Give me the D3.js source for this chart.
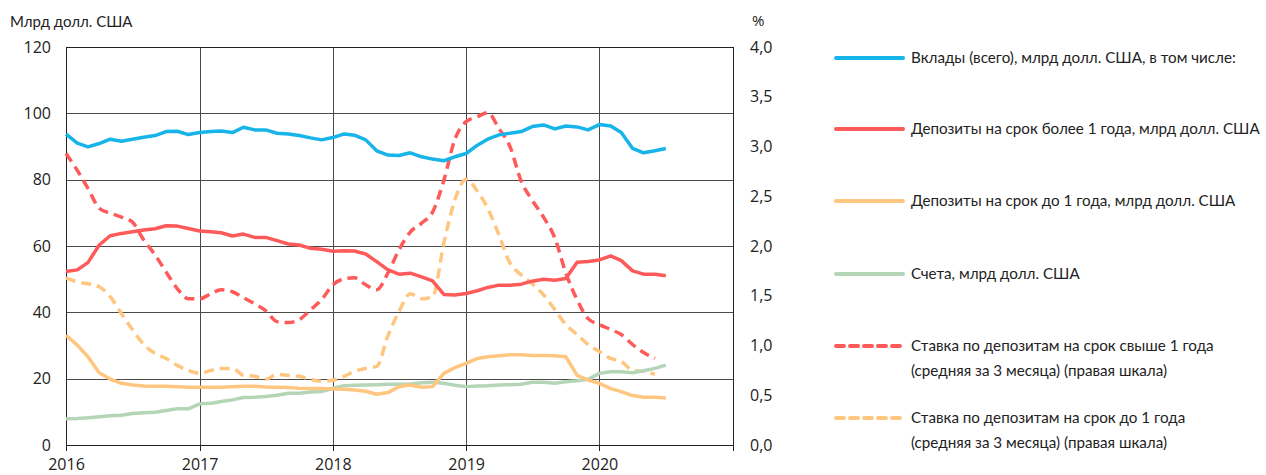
<!DOCTYPE html>
<html>
<head>
<meta charset="utf-8">
<script src="https://cdn.jsdelivr.net/npm/d3@7"></script>
<style>
  body { margin: 0; background: #fff; }
  svg { display: block; }
</style>
</head>
<body>
<svg id="chart" width="1266" height="475"></svg>
<script>
// monthly points, Jan 2016 .. Jul 2020
const startYear = 2016;
const yearTicks = [2016, 2017, 2018, 2019, 2020];

const deposits = [93.7, 91.0, 89.9, 90.9, 92.2, 91.6, 92.2, 92.8, 93.3, 94.5, 94.6, 93.6,
  94.2, 94.5, 94.7, 94.2, 95.8, 95.0, 95.0, 94.0, 93.8, 93.3, 92.6, 92.0,
  92.7, 93.8, 93.4, 92.0, 88.7, 87.4, 87.3, 88.1, 86.9, 86.2, 85.7, 86.9,
  87.9, 90.4, 92.2, 93.5, 94.0, 94.5, 96.0, 96.5, 95.3, 96.2, 95.9, 95.0,
  96.6, 96.2, 94.2, 89.4, 88.1, 88.7, 89.4];

const longTerm = [52.3, 52.8, 55.0, 60.3, 63.1, 63.8, 64.3, 64.8, 65.2, 66.1, 66.0, 65.3,
  64.5, 64.3, 64.0, 63.0, 63.6, 62.6, 62.6, 61.6, 60.6, 60.3, 59.3, 59.0,
  58.4, 58.6, 58.5, 57.6, 55.3, 52.8, 51.5, 51.8, 50.7, 49.5, 45.4, 45.2,
  45.7, 46.5, 47.5, 48.2, 48.2, 48.5, 49.4, 50.0, 49.7, 50.2, 55.1, 55.3,
  55.8, 57.0, 55.6, 52.5, 51.5, 51.5, 51.0];

const shortTerm = [33.1, 30.1, 26.6, 21.8, 19.9, 18.6, 18.1, 17.8, 17.7, 17.7, 17.6, 17.4,
  17.4, 17.4, 17.4, 17.6, 17.7, 17.7, 17.5, 17.4, 17.3, 17.1, 17.0, 17.0,
  16.9, 16.8, 16.6, 16.2, 15.3, 15.8, 17.6, 18.1, 17.4, 17.6, 21.6, 23.3,
  24.6, 26.1, 26.6, 26.9, 27.2, 27.2, 27.0, 27.0, 26.9, 26.6, 21.0, 19.6,
  18.6, 17.0, 16.1, 14.9, 14.4, 14.4, 14.2];

const accounts = [7.9, 8.0, 8.2, 8.5, 8.8, 9.0, 9.5, 9.7, 9.9, 10.4, 10.9, 10.9,
  12.4, 12.6, 13.1, 13.6, 14.3, 14.4, 14.6, 15.0, 15.6, 15.6, 16.0, 16.1,
  17.1, 17.9, 18.0, 18.1, 18.2, 18.3, 18.3, 18.4, 18.8, 18.9, 18.6, 18.0,
  17.6, 17.8, 17.9, 18.1, 18.2, 18.3, 18.9, 18.9, 18.6, 19.1, 19.4, 19.8,
  21.6, 22.1, 22.1, 21.8, 22.4, 23.1, 24.1];

// rates, % (right axis), Jan 2016 .. Jun 2020
const rateLong = [2.93, 2.76, 2.58, 2.38, 2.33, 2.29, 2.24, 2.06, 1.91, 1.74, 1.57, 1.47,
  1.47, 1.52, 1.56, 1.54, 1.48, 1.42, 1.35, 1.24, 1.23, 1.26, 1.36, 1.46,
  1.61, 1.67, 1.68, 1.61, 1.56, 1.73, 1.96, 2.14, 2.23, 2.34, 2.66, 3.07,
  3.25, 3.30, 3.34, 3.18, 3.00, 2.65, 2.46, 2.29, 2.08, 1.73, 1.46, 1.27,
  1.21, 1.16, 1.11, 1.01, 0.93, 0.87];

const rateShort = [1.68, 1.64, 1.62, 1.59, 1.49, 1.32, 1.16, 1.01, 0.92, 0.87, 0.80, 0.75,
  0.72, 0.75, 0.77, 0.77, 0.70, 0.69, 0.66, 0.71, 0.70, 0.69, 0.66, 0.64,
  0.65, 0.69, 0.74, 0.77, 0.79, 1.10, 1.34, 1.52, 1.47, 1.49, 2.03, 2.46,
  2.67, 2.55, 2.38, 2.11, 1.83, 1.71, 1.62, 1.51, 1.36, 1.21, 1.11, 1.01,
  0.94, 0.87, 0.84, 0.75, 0.74, 0.71];

const leftTicks = [0, 20, 40, 60, 80, 100, 120];
const rightTicks = [0, 0.5, 1, 1.5, 2, 2.5, 3, 3.5, 4];

const legendLabels = [
  ["Вклады (всего), млрд долл. США, в том числе:"],
  ["Депозиты на срок более 1 года, млрд долл. США"],
  ["Депозиты на срок до 1 года, млрд долл. США"],
  ["Счета, млрд долл. США"],
  ["Ставка по депозитам на срок свыше 1 года", "(средняя за 3 месяца) (правая шкала)"],
  ["Ставка по депозитам на срок до 1 года", "(средняя за 3 месяца) (правая шкала)"]
];

const COLORS = { blue: "#17b4e9", red: "#ff5a5a", orange: "#ffc680", green: "#b4d6b6" };

const margin = { top: 47, left: 66, right: 533, bottom: 30 };
const width = 1266, height = 475;
const x0 = margin.left, x1 = width - margin.right, y0 = height - margin.bottom, y1 = margin.top;

const svg = d3.select("#chart");
const tickFont = "'Open Sans', 'DejaVu Sans', sans-serif";
const textFont = "Lato, 'Open Sans', sans-serif";

const monthDate = i => new Date(startYear, i, 1);

const x = d3.scaleTime()
  .domain([new Date(2016, 0, 1), new Date(2021, 0, 1)])
  .range([x0, x1]);
const yL = d3.scaleLinear().domain([0, 120]).range([y0, y1]);
const yR = d3.scaleLinear().domain([0, 4]).range([y0, y1]);

// grid
const grid = svg.append("g").attr("stroke", "#4a4a4a").attr("stroke-width", 1).attr("shape-rendering", "crispEdges");
grid.selectAll(".h").data(leftTicks.slice(1, -1)).enter().append("line")
  .attr("x1", x0).attr("x2", x1)
  .attr("y1", d => Math.round(yL(d)) + 0.5).attr("y2", d => Math.round(yL(d)) + 0.5);
grid.selectAll(".v").data(yearTicks.slice(1)).enter().append("line")
  .attr("y1", y1).attr("y2", y0)
  .attr("x1", d => Math.round(x(new Date(d, 0, 1))) + 0.5)
  .attr("x2", d => Math.round(x(new Date(d, 0, 1))) + 0.5);

// frame
svg.append("rect")
  .attr("x", x0 + 0.5).attr("y", y1 + 0.5)
  .attr("width", x1 - x0).attr("height", y0 - y1)
  .attr("fill", "none").attr("stroke", "#222").attr("stroke-width", 1)
  .attr("shape-rendering", "crispEdges");

// axes
const xAxis = d3.axisBottom(x)
  .tickValues(yearTicks.concat([2021]).map(d => new Date(d, 0, 1)))
  .tickFormat(d => d.getFullYear() <= 2020 ? d3.timeFormat("%Y")(d) : "")
  .tickSizeInner(6).tickSizeOuter(0).tickPadding(8);
const gx = svg.append("g").attr("transform", `translate(0,${y0})`).call(xAxis);
gx.select(".domain").remove();

const yAxisL = d3.axisLeft(yL).tickValues(leftTicks).tickSize(0).tickPadding(15);
const gl = svg.append("g").attr("transform", `translate(${x0},0)`).call(yAxisL);
gl.select(".domain").remove();

const fmtR = d => d3.format(".1f")(d).replace(".", ",");
const yAxisR = d3.axisRight(yR).tickValues(rightTicks).tickFormat(fmtR).tickSize(0).tickPadding(17);
const gr = svg.append("g").attr("transform", `translate(${x1},0)`).call(yAxisR);
gr.select(".domain").remove();

[gx, gl, gr].forEach(g => {
  g.selectAll("text").attr("fill", "#222").style("font-size", "16px").style("font-family", tickFont);
  g.selectAll("line").attr("stroke", "#222").attr("shape-rendering", "crispEdges");
});

svg.append("text").attr("x", 10).attr("y", 27)
  .style("font-family", textFont).style("font-size", "15px").attr("fill", "#222")
  .text("Млрд долл. США");
svg.append("text").attr("x", 752).attr("y", 26)
  .style("font-family", tickFont).style("font-size", "15px").attr("fill", "#222")
  .text("%");

// lines
const lineL = d3.line().x((d, i) => x(monthDate(i))).y(d => yL(d));
const lineR = d3.line().x((d, i) => x(monthDate(i))).y(d => yR(d)).curve(d3.curveMonotoneX);

const series = [
  { data: rateShort, gen: lineR, color: COLORS.orange, dash: "10,6" },
  { data: rateLong, gen: lineR, color: COLORS.red, dash: "10,6" },
  { data: accounts, gen: lineL, color: COLORS.green },
  { data: shortTerm, gen: lineL, color: COLORS.orange },
  { data: longTerm, gen: lineL, color: COLORS.red },
  { data: deposits, gen: lineL, color: COLORS.blue }
];

svg.append("g").selectAll("path").data(series).enter().append("path")
  .attr("d", d => d.gen(d.data))
  .attr("fill", "none")
  .attr("stroke", d => d.color)
  .attr("stroke-width", 3.5)
  .attr("stroke-linejoin", "round")
  .attr("stroke-dasharray", d => d.dash || null);

// legend
const legendItems = [
  { color: COLORS.blue, y: 58 },
  { color: COLORS.red, y: 129 },
  { color: COLORS.orange, y: 201 },
  { color: COLORS.green, y: 274 },
  { color: COLORS.red, y: 346, dash: "8,6" },
  { color: COLORS.orange, y: 418, dash: "8,6" }
];
const legend = svg.append("g").attr("class", "legend");
const li = legend.selectAll("g").data(legendItems).enter().append("g")
  .attr("transform", d => `translate(0,${d.y})`);
li.append("line")
  .attr("x1", 836).attr("x2", 903).attr("y1", 0).attr("y2", 0)
  .attr("stroke", d => d.color).attr("stroke-width", 4)
  .attr("stroke-linecap", "round")
  .attr("stroke-dasharray", d => d.dash || null);
li.each(function (d, i) {
  const t = d3.select(this).append("text")
    .attr("x", 911).attr("y", 5)
    .style("font-family", textFont).style("font-size", "15.2px").attr("fill", "#222");
  legendLabels[i].forEach((s, k) => {
    t.append("tspan").attr("x", 911).attr("dy", k === 0 ? 0 : 25).text(s);
  });
});
</script>
</body>
</html>
